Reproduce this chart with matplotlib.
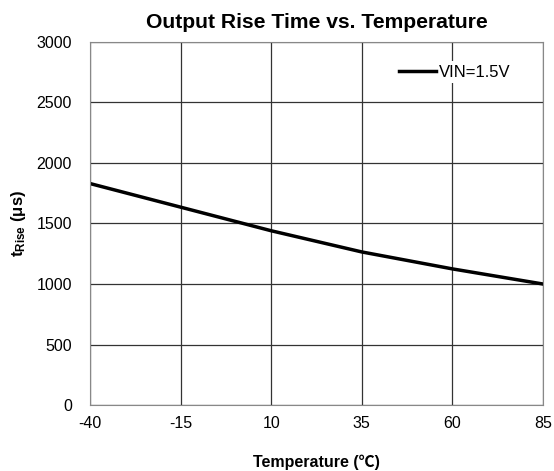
import matplotlib
matplotlib.use('Agg')
from matplotlib import pyplot as plt

plt.rcParams['font.family'] = ['Liberation Sans', 'Noto Sans CJK SC', 'DejaVu Sans']
plt.rcParams['mathtext.fontset'] = 'custom'
plt.rcParams['mathtext.rm'] = 'Liberation Sans:bold'
plt.rcParams['mathtext.bf'] = 'Liberation Sans:bold'
plt.rcParams['axes.unicode_minus'] = False

temperature = [-40, -15, 10, 35, 60, 85]
riseTime = [1830, 1635, 1440, 1265, 1125, 1000]
xTicks = [-40, -15, 10, 35, 60, 85]
yTicks = [0, 500, 1000, 1500, 2000, 2500, 3000]

fig = plt.figure(figsize=(5.54, 4.71), dpi=100)
ax = fig.add_axes([0.1625, 0.14, 0.8175, 0.771])

ax.plot(temperature, riseTime, color='black', linewidth=2.5, label='VIN=1.5V')

ax.set_xlim(-40, 85)
ax.set_ylim(0, 3000)
ax.set_xticks(xTicks)
ax.set_yticks(yTicks)
ax.tick_params(axis='both', length=0, labelsize=11.5)
ax.tick_params(axis='x', pad=8)
ax.tick_params(axis='y', pad=13)
ax.grid(True, color='#333333', linewidth=0.9)
for spine in ax.spines.values():
    spine.set_color('#888888')

ax.set_title('Output Rise Time vs. Temperature', fontsize=15.2, fontweight='bold', pad=10)
ax.set_xlabel('Temperature (℃)', fontsize=11.5, fontweight='bold', labelpad=17)
ax.set_ylabel(r'$\mathbf{t_{Rise}}$ (μs)', fontsize=12, fontweight='bold', labelpad=6)

ax.legend(loc='center right', bbox_to_anchor=(0.955, 0.917), frameon=True,
          facecolor='white', edgecolor='none', framealpha=1, fontsize=12,
          handlelength=2.2, handletextpad=0.2, borderpad=0.2)

fig.savefig('out.png', dpi=100)
